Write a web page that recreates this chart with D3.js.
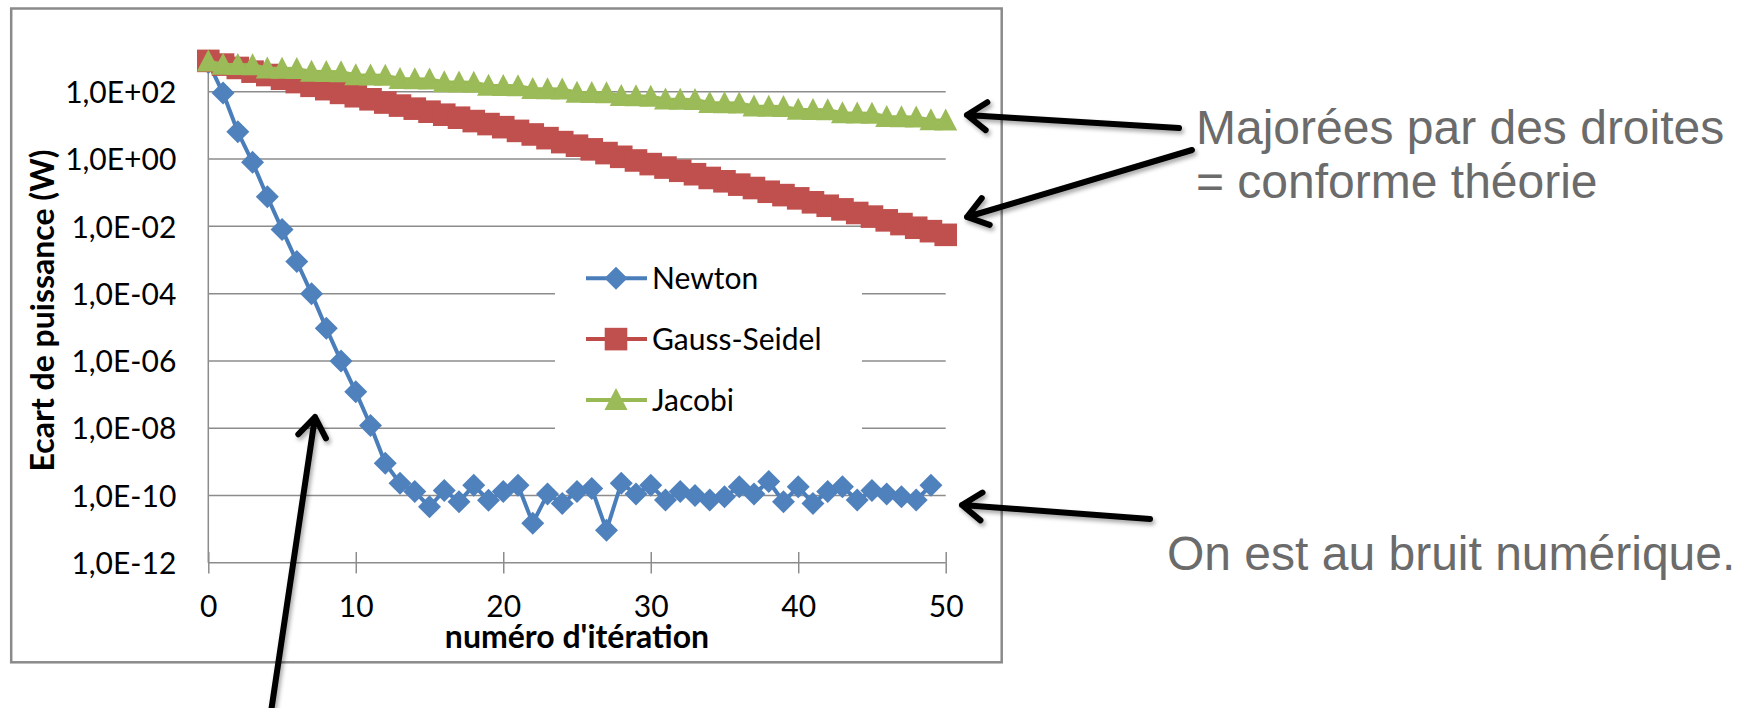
<!DOCTYPE html>
<html>
<head>
<meta charset="utf-8">
<script src="https://cdn.jsdelivr.net/npm/d3@7"></script>
<style>
  body { margin: 0; background: #ffffff; }
  svg { display: block; }
</style>
</head>
<body>
<svg id="chart" width="1752" height="708"></svg>
<script>
// ---- data -------------------------------------------------------------
// Power mismatch (W) at each iteration, for three load-flow solvers.
const newton = [
  750, 92, 6.5, 0.8, 0.076, 0.0081, 9.0e-4, 1.0e-4, 9.3e-6, 1.0e-6,
  1.2e-7, 1.2e-8, 9.0e-10, 2.3e-10, 1.3e-10, 4.6e-11, 1.4e-10, 6.5e-11, 2.0e-10, 7.2e-11,
  1.3e-10, 2.0e-10, 1.5e-11, 1.1e-10, 5.8e-11, 1.3e-10, 1.6e-10, 9.3e-12, 2.3e-10, 1.1e-10,
  2.0e-10, 7.3e-11, 1.3e-10, 1.0e-10, 7.3e-11, 9.1e-11, 1.8e-10, 1.1e-10, 2.6e-10, 6.5e-11,
  1.8e-10, 5.8e-11, 1.3e-10, 1.8e-10, 7.3e-11, 1.4e-10, 1.1e-10, 9.1e-11, 7.3e-11, 2.0e-10
];
const gaussSeidel = [
  832, 646, 513, 398, 316, 245, 195, 151, 120, 93,
  74, 60, 48, 39, 31.6, 25.7, 20.9, 17.0, 13.5, 11.0,
  8.9, 6.9, 5.4, 4.2, 3.2, 2.5, 1.95, 1.51, 1.17, 0.91,
  0.71, 0.56, 0.45, 0.355, 0.275, 0.219, 0.174, 0.138, 0.107, 0.085,
  0.068, 0.052, 0.041, 0.032, 0.025, 0.0195, 0.0151, 0.0117, 0.0091, 0.0072,
  0.0056
];
const jacobi = [
  794,
  640, 630, 620, 495, 488, 480, 393, 387, 381,
  312, 307, 302, 242, 238, 234, 193, 190, 187,
  152, 150, 147, 121, 119, 117, 94, 92.5, 91,
  75, 73.5, 72, 59.5, 58.5, 57.5, 46.5, 45.7, 45,
  36.5, 35.8, 35.2, 29.2, 28.7, 28.2, 23.2, 22.8, 22.4,
  17.9, 17.6, 17.3, 14.3, 14.0
];

const seriesNames = ["Newton", "Gauss-Seidel", "Jacobi"];
const seriesColors = ["#4A7EBB", "#BE4B48", "#98B954"];
const markerColors = ["#4F81BD", "#C0504D", "#9BBB59"];

const xTicks = [0, 10, 20, 30, 40, 50];
const yTicks = [1e-12, 1e-10, 1e-8, 1e-6, 1e-4, 1e-2, 1e0, 1e2];
const yTickLabels = ["1,0E-12", "1,0E-10", "1,0E-08", "1,0E-06", "1,0E-04", "1,0E-02", "1,0E+00", "1,0E+02"];

const xTitle = "numéro d'itération";
const yTitle = "Ecart de puissance (W)";

// ---- layout -----------------------------------------------------------
const svg = d3.select("#chart");
const plot = { left: 208.3, right: 945.7, top: 58.2, bottom: 562.7 };
const x = d3.scaleLinear().domain([0, 50]).range([plot.left, plot.right]);
const y = d3.scaleLog().domain([1e-12, 1e3]).range([plot.bottom, plot.top]);

const gridColor = "#8c8c8c";
const chartFont = "Lato, 'Open Sans', sans-serif";

// drop shadow for the annotation arrows
const defs = svg.append("defs");
const f = defs.append("filter").attr("id", "shadow")
  .attr("x", "-20%").attr("y", "-20%").attr("width", "140%").attr("height", "140%");
f.append("feDropShadow").attr("dx", 2).attr("dy", 3).attr("stdDeviation", 2)
  .attr("flood-color", "#000").attr("flood-opacity", 0.35);

// chart frame
svg.append("rect")
  .attr("x", 11.2).attr("y", 8.5).attr("width", 990.5).attr("height", 653.8)
  .attr("fill", "#fff").attr("stroke", "#8a8a8a").attr("stroke-width", 2.5);

// horizontal gridlines
svg.append("g").selectAll("line")
  .data(yTicks.slice(1))
  .join("line")
  .attr("x1", plot.left).attr("x2", plot.right)
  .attr("y1", d => y(d)).attr("y2", d => y(d))
  .attr("stroke", gridColor).attr("stroke-width", 1.5);

// y axis
const yAxis = svg.append("g")
  .attr("transform", `translate(${plot.left},0)`)
  .call(d3.axisLeft(y).tickValues(yTicks)
    .tickFormat((d, i) => yTickLabels[i]).tickSize(0).tickPadding(32));
yAxis.select(".domain").remove();
yAxis.append("line")
  .attr("x1", 0).attr("x2", 0).attr("y1", plot.top).attr("y2", plot.bottom)
  .attr("stroke", gridColor).attr("stroke-width", 1.5);
yAxis.selectAll("text")
  .attr("font-family", chartFont).attr("font-size", 30).attr("fill", "#000")
  .attr("dy", "0.36em");

// x axis with ticks crossing the axis line
const xAxis = svg.append("g")
  .attr("transform", `translate(0,${plot.bottom})`)
  .call(d3.axisBottom(x).tickValues(xTicks).tickSize(10.7).tickPadding(0));
xAxis.select(".domain").remove();
xAxis.append("line")
  .attr("x1", plot.left).attr("x2", plot.right)
  .attr("stroke", gridColor).attr("stroke-width", 1.5);
xAxis.selectAll(".tick line")
  .attr("y1", -10.7).attr("y2", 10.7)
  .attr("stroke", gridColor).attr("stroke-width", 1.5);
xAxis.selectAll(".tick text")
  .attr("y", 54).attr("dy", 0)
  .attr("font-family", chartFont).attr("font-size", 30).attr("fill", "#000");

// axis titles
svg.append("text")
  .attr("x", (plot.left + plot.right) / 2).attr("y", 648)
  .attr("text-anchor", "middle")
  .attr("font-family", chartFont).attr("font-weight", "bold").attr("font-size", 32)
  .text(xTitle);
svg.append("text")
  .attr("transform", `translate(54,${(plot.top + plot.bottom) / 2}) rotate(-90)`)
  .attr("text-anchor", "middle")
  .attr("font-family", chartFont).attr("font-weight", "bold").attr("font-size", 32)
  .text(yTitle);

// ---- series -----------------------------------------------------------
const markerPaths = [
  "M0,-11.5L11.5,0L0,11.5L-11.5,0Z",          // diamond
  "M-11.3,-11.3H11.3V11.3H-11.3Z",            // square
  "M0,-12L11.5,10L-11.5,10Z"                   // triangle
];
const allSeries = [newton, gaussSeidel, jacobi];
const line = d3.line().x((d, i) => x(i)).y(d => y(d));

allSeries.forEach((values, s) => {
  const g = svg.append("g");
  g.append("path")
    .attr("d", line(values))
    .attr("fill", "none").attr("stroke", seriesColors[s])
    .attr("stroke-width", 4).attr("stroke-linejoin", "round");
  g.selectAll("path.m")
    .data(values)
    .join("path")
    .attr("class", "m")
    .attr("d", markerPaths[s])
    .attr("transform", (d, i) => `translate(${x(i)},${y(d)})`)
    .attr("fill", markerColors[s]);
});

// ---- legend -----------------------------------------------------------
const legend = svg.append("g");
legend.append("rect")
  .attr("x", 555).attr("y", 248).attr("width", 307).attr("height", 192)
  .attr("fill", "#fff");
seriesNames.forEach((name, s) => {
  const ly = 278.3 + s * 60.8;
  legend.append("line")
    .attr("x1", 586).attr("x2", 647).attr("y1", ly).attr("y2", ly)
    .attr("stroke", seriesColors[s]).attr("stroke-width", 4);
  legend.append("path")
    .attr("d", markerPaths[s])
    .attr("transform", `translate(616,${ly})`)
    .attr("fill", markerColors[s]);
  legend.append("text")
    .attr("x", 652).attr("y", ly).attr("dy", "0.36em")
    .attr("font-family", chartFont).attr("font-size", 30).attr("fill", "#000")
    .text(name);
});

// ---- annotations ------------------------------------------------------
const noteFont = "'Liberation Sans', Arial, sans-serif";
const noteColor = "#6b6b6b";
const notes = [
  { x: 1196, y: 144, text: "Majorées par des droites" },
  { x: 1196, y: 198, text: "= conforme théorie" },
  { x: 1167, y: 570, text: "On est au bruit numérique." }
];
svg.append("g").selectAll("text")
  .data(notes)
  .join("text")
  .attr("x", d => d.x).attr("y", d => d.y)
  .attr("font-family", noteFont).attr("font-size", 48).attr("fill", noteColor)
  .text(d => d.text);

const arrows = [
  { from: [1179, 128], to: [967, 115] },
  { from: [1192, 150], to: [967, 217] },
  { from: [1150, 519], to: [962, 505] },
  { from: [271, 712], to: [315, 417] }
];
const arrowG = svg.append("g").attr("filter", "url(#shadow)");
arrows.forEach(a => {
  const [x1, y1] = a.from, [x2, y2] = a.to;
  const ang = Math.atan2(y1 - y2, x1 - x2);
  const len = 24, spread = 0.62;
  const b1 = [x2 + len * Math.cos(ang + spread), y2 + len * Math.sin(ang + spread)];
  const b2 = [x2 + len * Math.cos(ang - spread), y2 + len * Math.sin(ang - spread)];
  arrowG.append("path")
    .attr("d", `M${x1},${y1}L${x2},${y2}M${b1[0]},${b1[1]}L${x2},${y2}L${b2[0]},${b2[1]}`)
    .attr("fill", "none").attr("stroke", "#000").attr("stroke-width", 6)
    .attr("stroke-linecap", "round").attr("stroke-linejoin", "round");
});
</script>
</body>
</html>
